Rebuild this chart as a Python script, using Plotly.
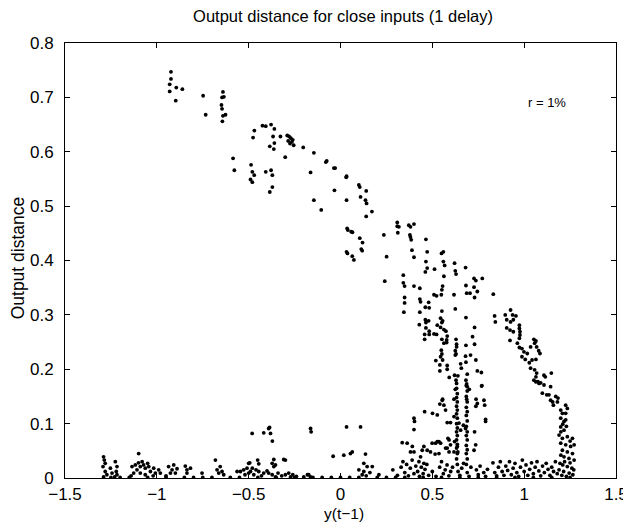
import plotly.graph_objects as go

# ---- data ----
upper_x = [-0.923,-0.923,-0.930,-0.894,-0.861,-0.930,-0.897,-0.748,-0.734,
           -0.640,-0.645,-0.635,-0.648,-0.645,-0.640,-0.626,-0.643,-0.585,-0.578,
           -0.469,-0.476,-0.487,-0.480,-0.470,-0.490,-0.480,
           -0.425,-0.407,-0.378,-0.360,-0.367,-0.327,-0.360,-0.385,-0.363,
           -0.407,-0.378,-0.371,-0.371,-0.385,
           -0.290,-0.280,-0.270,-0.285,-0.265,-0.275,-0.260,-0.255,
           -0.301,-0.203,-0.145,-0.080,-0.075,-0.029,0.033,0.031,
           -0.163,-0.033,-0.145,-0.105,0.033,
           -0.036,0.100,0.105,0.140,0.109,0.136,0.142,0.171,0.140,
           0.036,0.040,0.058,0.065,0.105,0.120,0.113,0.118,
           0.033,0.038,0.064,0.073]
upper_y = [0.747,0.734,0.724,0.718,0.715,0.711,0.694,0.703,0.668,
           0.710,0.700,0.701,0.686,0.679,0.666,0.668,0.656,0.588,0.566,
           0.639,0.626,0.576,0.563,0.557,0.549,0.544,
           0.648,0.647,0.650,0.642,0.628,0.628,0.616,0.610,0.605,
           0.563,0.566,0.557,0.535,0.526,
           0.630,0.628,0.625,0.620,0.618,0.615,0.622,0.612,
           0.590,0.608,0.598,0.581,0.583,0.570,0.555,0.553,
           0.562,0.529,0.511,0.493,0.511,
           0.570,0.539,0.535,0.528,0.517,0.511,0.505,0.490,0.481,
           0.459,0.456,0.453,0.452,0.441,0.433,0.421,0.418,
           0.416,0.413,0.408,0.401]

mid_x = [0.236,0.309,0.309,0.312,0.318,0.372,0.400,0.381,0.378,0.381,0.385,
         0.465,0.389,0.400,0.472,0.251,0.560,0.550,0.465,0.472,0.462,0.512,
         0.560,0.567,0.621,0.625,0.629,0.681,0.563,
         0.342,0.342,0.349,0.241,0.400,0.432,
         0.727,0.772,0.737,0.683,0.727,0.745,
         0.556,0.552,0.549,0.509,0.523,0.618,0.687,0.705,0.730,0.832,
         0.349,0.349,0.345,0.432,0.436,0.480,0.462,0.483,0.432,0.625,0.552,
         0.462,0.480,0.465,0.545,0.556,0.552,0.683,
         0.429,0.465,0.483,0.527,0.545,0.563,0.574,0.730,
         0.458,0.483,0.509,0.523,0.458,0.581,0.578,0.719,
         0.552,0.563,0.578,0.629,0.632,0.632,0.683,0.730,
         0.549,0.552,0.545,0.625,0.629,0.625,0.708,0.681,
         0.519,0.556,0.541,0.581,0.541,
         0.683,0.654,0.658,0.737,0.581,0.745,0.767,
         0.592,0.621,0.629,0.632,0.639,
         0.690,0.683,0.687,0.690,0.701,0.770,0.625,
         0.556,0.618,0.687,0.738]
mid_y = [0.447,0.470,0.463,0.451,0.462,0.465,0.467,0.462,0.447,0.443,0.438,
         0.439,0.419,0.406,0.416,0.407,0.416,0.413,0.398,0.386,0.379,0.384,
         0.398,0.391,0.395,0.381,0.375,0.387,0.371,
         0.373,0.359,0.353,0.362,0.353,0.349,
         0.367,0.367,0.363,0.354,0.351,0.343,
         0.353,0.346,0.337,0.337,0.335,0.337,0.340,0.340,0.332,0.338,
         0.332,0.322,0.305,0.329,0.324,0.323,0.314,0.313,0.305,0.311,0.307,
         0.291,0.289,0.286,0.294,0.289,0.286,0.295,
         0.282,0.276,0.270,0.281,0.277,0.273,0.270,0.277,
         0.264,0.264,0.265,0.264,0.255,0.261,0.254,0.260,
         0.255,0.248,0.249,0.255,0.246,0.241,0.244,0.246,
         0.235,0.228,0.223,0.234,0.228,0.226,0.226,0.224,
         0.216,0.217,0.208,0.207,0.197,
         0.213,0.210,0.202,0.217,0.200,0.197,0.194,
         0.185,0.189,0.180,0.174,0.188,
         0.191,0.180,0.173,0.168,0.163,0.170,0.163,
         0.145,0.145,0.145,0.145]

right_x = [0.839,0.843,0.897,0.926,0.937,0.955,0.905,0.926,0.941,
           0.905,0.923,0.974,0.974,0.977,0.977,0.974,0.941,0.923,
           0.963,0.974,1.053,1.064,
           0.988,0.999,1.017,1.035,1.057,1.068,1.079,1.086,0.988,1.006,1.028,1.043,1.064,
           1.035,1.057,1.068,1.064,1.053,1.075,1.090,1.108,1.115,1.148,
           1.063,1.081,1.108,1.144,1.099,1.135,1.172,1.144,1.181,1.123,1.184,1.155,1.159,
           1.226,1.235,1.199,1.208,1.226,1.199,1.217,1.226,1.199,1.217,
           1.190,1.208,1.235,1.263,1.199,1.226,1.253,1.272,1.208,1.235,1.263,1.217,1.244,1.272,
           1.195,1.210,1.235,1.260,1.190,1.215,1.245,1.205,1.230,1.265,1.250,1.270,1.220,1.200,1.250,1.210,1.230,1.200]
right_y = [0.298,0.287,0.300,0.309,0.300,0.298,0.291,0.287,0.291,
           0.276,0.272,0.281,0.275,0.269,0.263,0.257,0.269,0.253,
           0.248,0.240,0.255,0.252,
           0.238,0.232,0.229,0.241,0.248,0.241,0.234,0.229,0.223,0.218,0.212,0.217,0.218,
           0.202,0.199,0.193,0.186,0.180,0.177,0.175,0.189,0.186,0.193,
           0.177,0.174,0.171,0.168,0.156,0.153,0.150,0.143,0.140,0.153,0.147,0.140,0.134,
           0.134,0.128,0.125,0.119,0.119,0.110,0.104,0.107,0.094,0.088,
           0.079,0.073,0.076,0.073,0.064,0.061,0.058,0.061,0.051,0.048,0.045,0.039,0.036,0.033,
           0.027,0.024,0.021,0.018,0.015,0.012,0.009,0.005,0.003,0.006,0.028,0.015,0.030,0.042,0.068,0.099,0.095,0.085]

low_x = [-1.290,-1.286,-1.281,-1.293,-1.281,-1.272,-1.290,
         -1.226,-1.217,-1.221,-1.217,-1.253,-1.244,-1.230,-1.099,
         -1.135,-1.117,-1.108,-1.090,-1.072,-1.063,-1.044,-1.035,-1.017,-1.008,-0.990,-0.981,
         -1.126,-1.090,-1.063,-1.100,-1.080,-1.050,-1.140,-1.020,
         -0.936,-0.917,-0.908,-0.899,-0.926,-0.950,-0.890,
         -0.845,-0.836,-0.817,-0.836,-0.754,
         -0.681,-0.672,-0.663,-0.636,-0.655,-0.645,-0.563,
         -0.481,-0.418,-0.391,-0.381,-0.371,-0.386,
         -0.494,-0.451,-0.445,-0.363,-0.354,-0.309,-0.500,-0.372,-0.363,-0.300,
         -0.545,-0.527,-0.509,-0.500,-0.490,-0.472,-0.445,-0.418,-0.391,-0.372,-0.354,
         -0.300,-0.282,-0.272,-0.173,-0.163,
         -0.520,-0.480,-0.460,-0.430,-0.400,-0.340,-0.320,-0.260,-0.240,-0.200,-0.180,
         -0.163,-0.160,0.033,0.109,
         -0.040,0.018,0.054,0.064,0.136,
         0.127,0.145,0.173,0.100,0.127,0.118,0.209,0.285,0.140,0.160,
         0.336,0.363,0.391,0.381,0.400,0.454,0.472,0.490,0.527,0.545,
         0.585,0.599,0.621,0.636,0.639,0.618,0.581,0.727,
         0.554,0.541,0.563,0.572,0.501,0.527,0.458,0.400,0.403,0.599,0.581,0.400,0.669,0.681,0.730,
         0.781,0.785,0.790,0.790,0.745,0.737,0.768,
         0.618,0.645,0.654,0.591,0.536,0.518,0.499,0.572,0.591,0.445,0.536,0.515,0.436,0.427,0.454,0.736]
low_y = [0.039,0.033,0.027,0.021,0.012,0.006,0.002,
         0.030,0.021,0.012,0.006,0.018,0.009,0.002,0.045,
         0.021,0.024,0.015,0.021,0.024,0.018,0.021,0.012,0.018,0.009,0.015,0.009,
         0.009,0.009,0.006,0.028,0.030,0.027,0.004,0.004,
         0.021,0.015,0.024,0.009,0.009,0.004,0.017,
         0.022,0.015,0.018,0.009,0.009,
         0.033,0.015,0.009,0.006,0.021,0.012,0.012,
         0.082,0.083,0.091,0.082,0.068,0.093,
         0.028,0.033,0.026,0.034,0.024,0.034,0.027,0.027,0.021,0.033,
         0.012,0.015,0.018,0.009,0.012,0.006,0.012,0.009,0.009,0.006,0.002,
         0.006,0.009,0.002,0.006,0.002,
         0.006,0.018,0.015,0.004,0.013,0.009,0.004,0.006,0.003,0.002,0.006,
         0.091,0.085,0.094,0.094,
         0.040,0.042,0.045,0.048,0.044,
         0.027,0.021,0.021,0.015,0.012,0.006,0.006,0.015,0.004,0.010,
         0.065,0.064,0.058,0.048,0.048,0.058,0.051,0.048,0.067,0.064,
         0.073,0.061,0.067,0.058,0.048,0.048,0.055,0.051,
         0.143,0.136,0.134,0.125,0.119,0.116,0.122,0.110,0.104,0.102,0.102,0.089,0.097,0.091,0.085,
         0.143,0.134,0.108,0.104,0.137,0.132,0.169,
         0.113,0.101,0.088,0.070,0.067,0.064,0.064,0.055,0.048,0.051,0.045,0.044,0.039,0.030,0.027,0.061]

col_a_x = [0.632,0.636,0.632,0.636,0.632,0.636,0.632,0.636,0.632,0.636,0.632,0.636,0.632,0.636,0.632,0.636,0.632,0.636]
col_a_y = [0.165,0.155,0.148,0.140,0.132,0.125,0.118,0.110,0.100,0.092,0.085,0.078,0.070,0.062,0.055,0.045,0.035,0.025]
col_b_x = [0.685,0.690,0.685,0.690,0.685,0.690,0.685,0.690,0.685,0.690,0.685,0.690,0.685,0.690,0.685,0.690,0.685]
col_b_y = [0.170,0.160,0.150,0.140,0.130,0.122,0.115,0.105,0.095,0.085,0.078,0.070,0.060,0.052,0.045,0.035,0.025]

floor_x = [0.31,0.33,0.34,0.35,0.36,0.37,0.38,0.39,0.40,0.41,0.42,0.43,0.44,0.45,0.46,0.47,0.48,0.50,
           0.52,0.54,0.55,0.56,0.57,0.58,0.59,0.60,0.61,0.64,0.65,0.66,0.67,0.69,0.70,0.71,0.74,0.75,
           0.76,0.78,0.79,0.80,0.83,0.84,0.85,0.86,0.87,0.88,0.89,0.90,0.91,0.92,0.93,0.94,0.95,0.96,
           0.97,0.98,0.99,1.00,1.01,1.02,1.03,1.04,1.05,1.06,1.07,1.08,1.09,1.10,1.11,1.12,1.13,1.14,
           1.15,1.16,1.17,1.18,
           -1.25,-1.20,-1.15,-1.05,-0.95,-0.85,-0.80,-0.75,-0.70,-0.60,-0.55,-0.45,-0.35,-0.25,-0.15,
           -0.10,-0.05,0.00,0.05,0.10,0.20,0.25,0.30,0.35,0.45,0.55,0.65,0.75,0.85,0.95,1.05,1.15,1.25]
floor_y = [0.005,0.020,0.030,0.010,0.025,0.004,0.018,0.033,0.008,0.022,0.012,0.003,0.020,0.008,0.016,0.025,0.005,0.012,
           0.003,0.020,0.030,0.008,0.015,0.024,0.004,0.012,0.020,0.012,0.005,0.018,0.027,0.010,0.003,0.020,0.015,0.006,
           0.022,0.010,0.003,0.016,0.028,0.010,0.004,0.020,0.030,0.012,0.005,0.022,0.014,0.030,0.006,0.018,0.027,0.010,
           0.003,0.020,0.033,0.012,0.024,0.005,0.016,0.028,0.008,0.020,0.030,0.013,0.004,0.022,0.010,0.027,0.016,0.005,
           0.020,0.012,0.030,0.008,
           0.001,0.001,0.001,0.001,0.001,0.001,0.001,0.001,0.001,0.001,0.001,0.001,0.001,0.001,0.001,
           0.001,0.001,0.001,0.001,0.001,0.001,0.001,0.001,0.001,0.001,0.001,0.001,0.001,0.001,0.001,0.001,0.001,0.001]

x_ticks = [-1.5, -1, -0.5, 0, 0.5, 1, 1.5]
y_ticks = [0, 0.1, 0.2, 0.3, 0.4, 0.5, 0.6, 0.7, 0.8]

FONT = "Liberation Sans, Arial, sans-serif"
fig = go.Figure()
for xs, ys in [(upper_x, upper_y), (mid_x, mid_y), (right_x, right_y), (low_x, low_y),
               (col_a_x, col_a_y), (col_b_x, col_b_y), (floor_x, floor_y)]:
    fig.add_trace(go.Scatter(x=xs, y=ys, mode="markers", showlegend=False,
                             marker=dict(size=3.8, color="black", line=dict(width=0))))

axis_common = dict(showgrid=False, zeroline=False, showline=True, linecolor="black", linewidth=1,
                   mirror="ticks", ticks="inside", ticklen=5, tickcolor="black",
                   tickfont=dict(family=FONT, size=17, color="black"))
fig.update_layout(
    width=631, height=523,
    margin=dict(l=57, r=23, t=35, b=53),
    paper_bgcolor="white", plot_bgcolor="white",
    title=dict(text="Output distance for close inputs (1 delay)", x=0.531, xanchor="center",
               y=0.984, yanchor="middle", font=dict(family=FONT, size=16.5, color="black")),
    xaxis=dict(range=[-1.5, 1.5], tickvals=x_ticks, ticklabelstandoff=1, **axis_common),
    yaxis=dict(range=[0, 0.8], tickvals=y_ticks, ticklabelstandoff=7, **axis_common),
    annotations=[
        dict(text="r = 1%", x=1.126, y=0.69, xref="x", yref="y", showarrow=False,
             font=dict(family=FONT, size=13, color="black")),
        dict(text="y(t−1)", x=0.506, y=0, xref="paper", yref="paper", showarrow=False,
             yshift=-35.5, yanchor="middle", font=dict(family=FONT, size=15.5, color="black")),
        dict(text="Output distance", x=0, y=0.505, xref="paper", yref="paper", showarrow=False,
             xshift=-47, textangle=-90, xanchor="center", yanchor="middle",
             font=dict(family=FONT, size=17.5, color="black")),
    ],
)
fig.write_html("out.html")
